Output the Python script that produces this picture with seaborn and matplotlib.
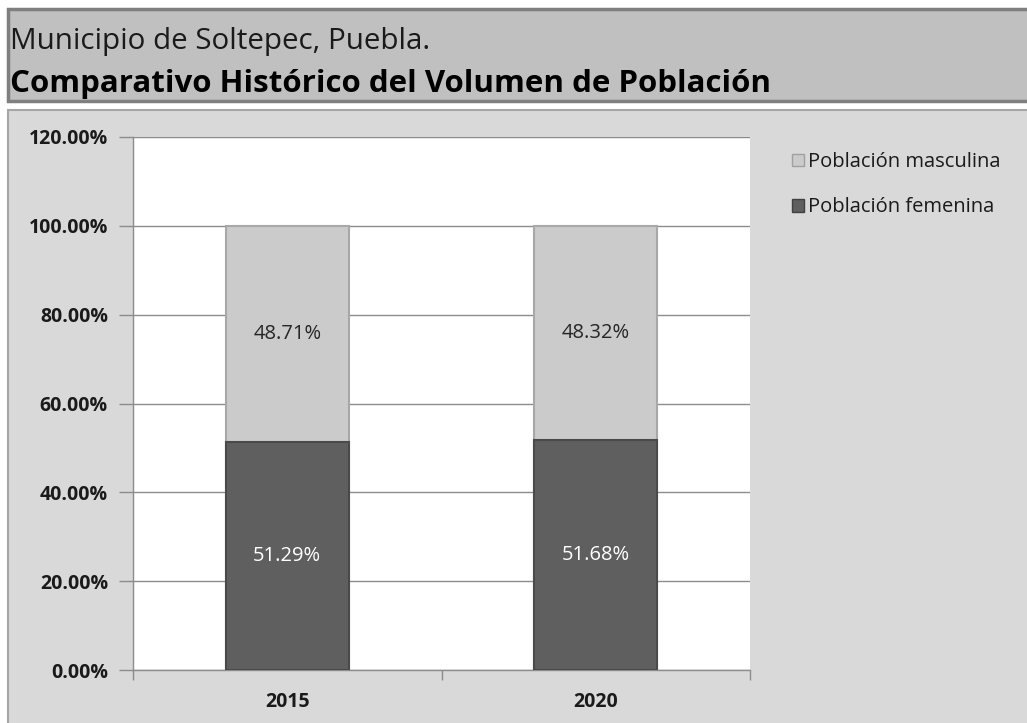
import matplotlib
matplotlib.use("Agg")
import matplotlib.pyplot as plt
from matplotlib.patches import Rectangle, Patch
import matplotlib.ticker as ticker
import pandas as pd
import seaborn as sns

# data
years = ["2015", "2020"]
femenina = [51.29, 51.68]
masculina = [48.71, 48.32]
y_ticks = [0, 20, 40, 60, 80, 100, 120]

df = pd.DataFrame({"Año": years, "Femenina": femenina, "Masculina": masculina})
df["Total"] = df["Femenina"] + df["Masculina"]

sns.set_theme(style="white")
plt.rcParams['font.family'] = ['Open Sans', 'DejaVu Sans']

W, H = 1027, 723
fig = plt.figure(figsize=(W / 100, H / 100), dpi=100)
fig.patch.set_facecolor("white")

def px_rect(x0, y0, x1, y1, **kw):
    # rectangle given in pixel coords (top-left origin)
    fig.patches.append(Rectangle((x0 / W, 1 - y1 / H), (x1 - x0) / W, (y1 - y0) / H,
                                 transform=fig.transFigure, zorder=-5, **kw))

# title band and chart area
px_rect(8, 9, 1030, 101, facecolor="#c0c0c0", edgecolor="#7f7f7f", linewidth=2.5)
px_rect(8, 110, 1030, 730, facecolor="#d9d9d9", edgecolor="#a6a6a6", linewidth=1.5)

fig.text(10 / W, 1 - 42 / H, "Municipio de Soltepec, Puebla.", fontsize=21.3,
         color="#1a1a1a", va="center", ha="left")
fig.text(10 / W, 1 - 84 / H, "Comparativo Histórico del Volumen de Población", fontsize=22.5,
         fontweight="bold", color="black", va="center", ha="left")

ax = fig.add_axes([133 / W, 1 - 670 / H, 617 / W, 533 / H])
ax.set_facecolor("white")

sns.barplot(data=df, x="Año", y="Total", color="#cbcbcb", width=0.4,
            edgecolor="#a8a8a8", linewidth=1.5, ax=ax, zorder=3)
sns.barplot(data=df, x="Año", y="Femenina", color="#5f5f5f", width=0.4,
            edgecolor="#4a4a4a", linewidth=1.5, ax=ax, zorder=4)

for i, (f, m) in enumerate(zip(femenina, masculina)):
    ax.text(i, f / 2, f"{f:.2f}%", ha="center", va="center", fontsize=14.5,
            color="white", zorder=5)
    ax.text(i, f + m / 2, f"{m:.2f}%", ha="center", va="center", fontsize=14.5,
            color="#262626", zorder=5)

ax.set_ylim(0, 120)
ax.set_xlim(-0.5, 1.5)
ax.set_yticks(y_ticks)
ax.yaxis.set_major_formatter(ticker.FuncFormatter(lambda v, p: f"{v:.2f}%"))
ax.yaxis.grid(True, color="#8c8c8c", linewidth=1)
ax.set_axisbelow(True)
ax.set_xlabel("")
ax.set_ylabel("")

ax.xaxis.set_minor_locator(ticker.FixedLocator([-0.5, 0.5, 1.5]))
ax.tick_params(axis="x", which="major", length=0, pad=16, labelsize=14)
ax.tick_params(axis="x", which="minor", length=7, width=1, color="#8c8c8c", direction="out", bottom=True)
ax.tick_params(axis="y", length=10, width=1, color="#8c8c8c", direction="out", left=True, pad=8, labelsize=14)
for lab in ax.get_xticklabels() + ax.get_yticklabels():
    lab.set_fontweight("bold")
    lab.set_color("#1a1a1a")

for s in ["top", "right"]:
    ax.spines[s].set_visible(False)
for s in ["left", "bottom"]:
    ax.spines[s].set_color("#8c8c8c")
    ax.spines[s].set_linewidth(1)

handles = [Patch(facecolor="#cbcbcb", edgecolor="#a0a0a0", label="Población masculina"),
           Patch(facecolor="#5f5f5f", edgecolor="#404040", label="Población femenina")]
fig.legend(handles=handles, loc="upper left", bbox_to_anchor=(774 / W, 1 - 134 / H),
           frameon=False, fontsize=14.5, handlelength=0.6, handleheight=0.6,
           handletextpad=0.2, labelspacing=1.25, labelcolor="#1a1a1a")

fig.savefig("out.png", dpi=100, facecolor=fig.get_facecolor())
